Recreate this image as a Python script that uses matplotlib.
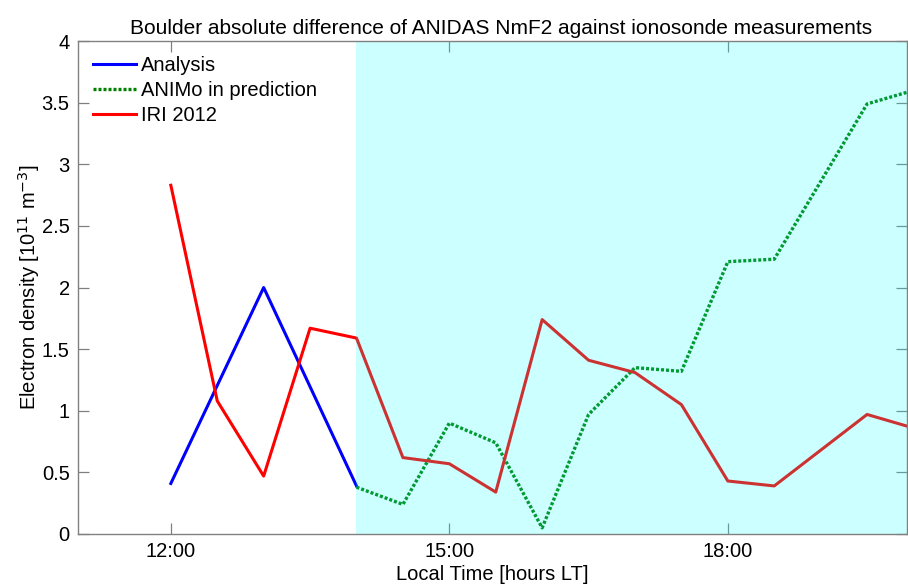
import matplotlib
matplotlib.use("Agg")
import matplotlib.pyplot as plt
from matplotlib.ticker import FixedLocator

plt.rcParams['font.family'] = ['Liberation Sans', 'DejaVu Sans']

# Local time in hours
t_analysis = [12.0, 13.0, 14.0]
analysis = [0.41, 2.00, 0.39]

t_animo = [14.0, 14.5, 15.0, 15.5, 16.0, 16.5, 17.0, 17.5, 18.0, 18.5, 19.5, 20.0]
animo = [0.38, 0.24, 0.90, 0.74, 0.05, 0.97, 1.35, 1.32, 2.21, 2.23, 3.49, 3.60]

t_iri = [12.0, 12.5, 13.0, 13.5, 14.0, 14.5, 15.0, 15.5, 16.0, 16.5, 17.0, 17.5, 18.0, 18.5, 19.5, 20.0]
iri = [2.83, 1.08, 0.47, 1.67, 1.59, 0.62, 0.57, 0.34, 1.74, 1.41, 1.31, 1.05, 0.43, 0.39, 0.97, 0.86]

prediction_start = 14.0
xtick_hours = [12, 15, 18]
xtick_labels = ['12:00', '15:00', '18:00']

fig = plt.figure(figsize=(9.08, 5.87), dpi=100)
ax = fig.add_axes([0.0859, 0.0903, 0.913, 0.8397])

fs = 14.5
ax.plot(t_analysis, analysis, color='#0000ff', lw=2.2, label='Analysis', zorder=2)
ax.plot(t_animo, animo, color='#008000', lw=2.4, ls=(0, (0.9, 0.6)), label='ANIMo in prediction', zorder=2)
ax.plot(t_iri, iri, color='#ff0000', lw=2.2, label='IRI 2012', zorder=2)

# translucent prediction window laid over the curves
ax.axvspan(prediction_start, 20.0, facecolor='cyan', alpha=0.2, edgecolor='none', zorder=3)

ax.set_xlim(11.0, 19.93)
ax.set_ylim(0, 4)
ax.xaxis.set_major_locator(FixedLocator(xtick_hours))
ax.set_xticklabels(xtick_labels)
ax.set_yticks([0, 0.5, 1, 1.5, 2, 2.5, 3, 3.5, 4])
ax.set_yticklabels(['0', '0.5', '1', '1.5', '2', '2.5', '3', '3.5', '4'])

ax.tick_params(direction='in', length=8, width=0.9, color='#808080',
               top=True, right=True, labelsize=fs, pad=6)
for s in ax.spines.values():
    s.set_color('#808080')
    s.set_linewidth(1.0)
    s.set_zorder(4)

ax.set_title('Boulder absolute difference of ANIDAS NmF2 against ionosonde measurements',
             fontsize=15, pad=5, x=0.51)
ax.set_xlabel('Local Time [hours LT]', fontsize=fs, labelpad=3)
ax.set_ylabel('Electron density [10$^{11}$ m$^{-3}$]', fontsize=fs, labelpad=0)

leg = ax.legend(loc='upper left', frameon=False, fontsize=fs, handlelength=2.15,
                handletextpad=0.25, labelspacing=0.3, borderaxespad=0.35,
                bbox_to_anchor=(0.0, 1.0))
leg.set_zorder(5)

fig.savefig('out.png', dpi=100)
